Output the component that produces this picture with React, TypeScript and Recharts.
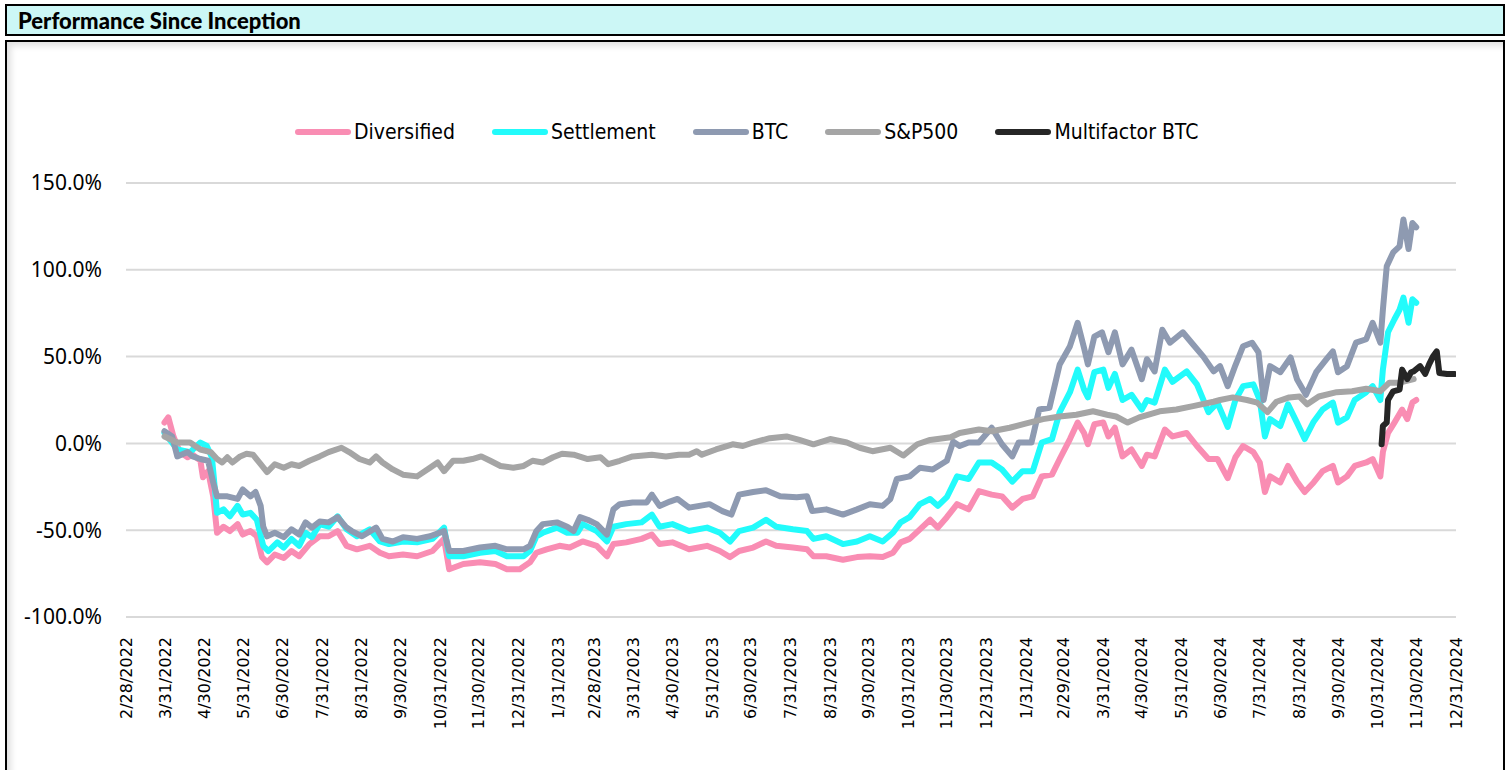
import React from 'react';
import { LineChart, Line, XAxis, YAxis, CartesianGrid, Legend } from 'recharts';

// X categories: month-end tick labels
const monthEndLabels = [
  '2/28/2022', '3/31/2022', '4/30/2022', '5/31/2022', '6/30/2022', '7/31/2022', '8/31/2022', '9/30/2022',
  '10/31/2022', '11/30/2022', '12/31/2022', '1/31/2023', '2/28/2023', '3/31/2023', '4/30/2023', '5/31/2023',
  '6/30/2023', '7/31/2023', '8/31/2023', '9/30/2023', '10/31/2023', '11/30/2023', '12/31/2023', '1/31/2024',
  '2/29/2024', '3/31/2024', '4/30/2024', '5/31/2024', '6/30/2024', '7/31/2024', '8/31/2024', '9/30/2024',
  '10/31/2024', '11/30/2024', '12/31/2024',
];
const yTicks = [-100, -50, 0, 50, 100, 150];

// Series values: [days since 2/28/2022, cumulative return %]
const diversified: [number, number][] = [
  [30, 12], [33, 15], [37, 4], [42, -5], [48, -8], [52, -6.5], [58, -10], [60, -19.5], [64, -16], [68, -30.5],
  [71, -51.5], [76, -48], [81, -50.5], [87, -46.5], [91, -52.5], [97, -50.5], [102, -53.5], [106, -65.5], [110, -68.5],
  [116, -64], [123, -66], [129, -62], [135, -65], [143, -58], [151, -53.5], [158, -53.5], [165, -50.5], [172, -59],
  [180, -61], [190, -59], [198, -63], [205, -65], [216, -64], [227, -65], [239, -62], [248, -55], [252, -72.5],
  [263, -69.5], [276, -68.5], [288, -69.5], [297, -72.5], [307, -72.5], [315, -68.5], [320, -63], [328, -61],
  [338, -59], [346, -60], [356, -56.5], [367, -59], [375, -65], [380, -58], [390, -57], [402, -55], [410, -52.5],
  [416, -58], [426, -57], [439, -61], [453, -59], [463, -62], [471, -65.5], [478, -62], [489, -60], [499, -56.5],
  [507, -59], [520, -60], [531, -61], [536, -65], [546, -65], [559, -67], [570, -65.5], [580, -65], [590, -65.5],
  [598, -63], [604, -57], [611, -55], [619, -49.5], [627, -44], [633, -48.5], [640, -42.5], [648, -35], [657, -38],
  [665, -27.5], [675, -29.5], [683, -30.5], [691, -37], [699, -32], [707, -30.5], [714, -19], [722, -18], [728, -9],
  [736, 2.5], [742, 12], [747, 6], [750, -0.5], [755, 11], [762, 12], [766, 4], [771, 9], [777, -7.5], [784, -3.5],
  [792, -13], [796, -6.5], [802, -7.5], [810, 8], [816, 4], [827, 6], [835, -1.5], [844, -9], [851, -9], [859, -20],
  [865, -8], [871, -1.5], [879, -5], [884, -11], [888, -28], [892, -19], [900, -22.5], [906, -13], [913, -22],
  [919, -28], [926, -22.5], [933, -16], [941, -13], [945, -22.5], [952, -19], [958, -13], [967, -11], [972, -9],
  [978, -19], [980, -5], [984, 6], [989, 12], [995, 19.5], [999, 14], [1003, 23.5], [1006, 25],
];

const settlement: [number, number][] = [
  [30, 6], [40, -3.5], [50, -5], [58, 0.5], [63, -1.5], [67, -8], [71, -40], [76, -38], [81, -42], [87, -36],
  [91, -41], [97, -40], [102, -44], [107, -59], [111, -62], [118, -57], [123, -60], [129, -55], [135, -59],
  [140, -51.5], [145, -54], [151, -46.5], [158, -48], [165, -42], [172, -49.5], [180, -53.5], [190, -49.5],
  [198, -56.5], [205, -58], [216, -56.5], [227, -57], [239, -55], [248, -48.5], [252, -65], [263, -65], [276, -63],
  [288, -62], [297, -65], [310, -65], [315, -62], [320, -53.5], [325, -51.5], [336, -48.5], [344, -51.5],
  [352, -51.5], [356, -46.5], [367, -50.5], [375, -56.5], [380, -48], [390, -46.5], [402, -45.5], [410, -41],
  [416, -48], [426, -46.5], [439, -50.5], [453, -48.5], [463, -51.5], [471, -56.5], [478, -50.5], [489, -48.5],
  [499, -44], [507, -48], [520, -49.5], [531, -50.5], [536, -55], [546, -53.5], [559, -58], [570, -56.5],
  [580, -53.5], [590, -56.5], [598, -51.5], [604, -45.5], [611, -42.5], [619, -35], [627, -32], [633, -36],
  [640, -31], [648, -19], [657, -20.5], [665, -11], [675, -11], [683, -15], [691, -22], [699, -16], [707, -16],
  [714, 0.5], [722, 2.5], [728, 18], [736, 29.5], [742, 42.5], [747, 31], [750, 26.5], [755, 41], [762, 42.5],
  [766, 32], [771, 40], [777, 25], [784, 28], [792, 19.5], [796, 25], [802, 23.5], [810, 42.5], [816, 35.5],
  [827, 41.5], [835, 34], [844, 18], [851, 23.5], [859, 9.5], [865, 25], [871, 33], [879, 34], [884, 25], [888, 4],
  [892, 14], [900, 10], [906, 22.5], [913, 12], [919, 2.5], [926, 12.5], [933, 19.5], [941, 23.5], [945, 12],
  [952, 15], [958, 25], [967, 29.5], [972, 33], [978, 25], [980, 42.5], [984, 64], [989, 71.5], [993, 77],
  [996, 84], [1000, 69.5], [1003, 83], [1006, 81],
];

const btc: [number, number][] = [
  [30, 7], [36, 4], [40, -7.5], [48, -5], [52, -7.5], [58, -9], [64, -10], [68, -22.5], [71, -30.5], [79, -30.5],
  [87, -32], [91, -26.5], [97, -30.5], [101, -28], [105, -36], [107, -48], [110, -53.5], [116, -51.5], [123, -54],
  [129, -49.5], [135, -52.5], [140, -45.5], [145, -48.5], [151, -45], [158, -45.5], [165, -42.5], [172, -48.5],
  [176, -50.5], [184, -53.5], [195, -48.5], [200, -55], [208, -56.5], [216, -54], [227, -55], [237, -53.5],
  [248, -50.5], [252, -62], [263, -62], [276, -60], [288, -59], [297, -61], [310, -61], [315, -59], [320, -50.5],
  [325, -46.5], [336, -45.5], [344, -48], [349, -50.5], [354, -42.5], [360, -44], [367, -46.5], [375, -52.5],
  [380, -38], [385, -35], [395, -34], [406, -34], [410, -29.5], [416, -36], [424, -33.5], [430, -32], [439, -37],
  [455, -35], [465, -39], [472, -41], [478, -29.5], [489, -28], [499, -27], [510, -30.5], [523, -31], [531, -30.5],
  [535, -39], [546, -38], [559, -41], [570, -38], [580, -35], [590, -36], [596, -32], [601, -20.5], [611, -19],
  [619, -14], [629, -15], [640, -10], [645, 1], [650, -1.5], [657, 0.5], [665, 0.5], [675, 9], [683, -0.5],
  [691, -7.5], [696, 0.5], [706, 0.5], [712, 19.5], [720, 20.5], [728, 45.5], [736, 56], [742, 69.5], [747, 55],
  [750, 45.5], [755, 61.5], [761, 64], [766, 52.5], [771, 64], [777, 45.5], [784, 54], [792, 37], [796, 48.5],
  [802, 41.5], [808, 65.5], [814, 58], [824, 64], [832, 57], [840, 50], [848, 41.5], [853, 44.5], [859, 33],
  [865, 45], [871, 56], [878, 58], [883, 52.5], [887, 25], [892, 44.5], [900, 41], [908, 49.5], [913, 37],
  [920, 28], [928, 41], [936, 48.5], [941, 53], [945, 41], [952, 44.5], [959, 58], [967, 60], [972, 69.5],
  [978, 58], [980, 77], [983, 102], [988, 110], [993, 113.5], [996, 129], [1000, 112], [1003, 127], [1006, 124.5],
];

const sp500: [number, number][] = [
  [30, 4], [40, 0.5], [50, 0.5], [58, -3.5], [66, -5], [71, -9], [75, -11], [79, -8], [83, -11], [89, -7.5],
  [94, -6], [99, -6.5], [105, -12], [110, -16.5], [116, -12], [123, -14], [129, -12], [135, -13], [143, -10],
  [151, -7.5], [158, -5], [168, -2.5], [174, -5], [182, -9], [190, -11], [195, -7.5], [200, -11], [208, -15],
  [216, -18], [227, -19], [237, -14], [243, -11], [248, -16], [255, -10], [263, -10], [270, -9], [277, -7.5],
  [284, -10], [292, -13], [302, -14], [310, -13], [317, -10], [325, -11], [333, -8], [340, -6], [349, -6.5],
  [360, -9], [370, -8], [376, -12], [385, -10], [395, -7.5], [410, -6.5], [421, -7.5], [431, -6.5], [439, -6.5],
  [445, -4.5], [449, -6.5], [460, -3.5], [473, -0.5], [481, -1.5], [489, 0.5], [502, 3], [515, 4], [525, 2],
  [536, -0.5], [549, 2.5], [562, 0.5], [572, -2.5], [582, -4.5], [596, -2.5], [606, -7], [617, -0.5], [627, 2],
  [643, 3.5], [650, 6], [665, 8], [675, 7], [689, 9], [702, 11.5], [715, 14], [728, 15.5], [741, 16.5], [754, 18.5],
  [765, 16.5], [772, 15.5], [781, 12], [790, 15], [806, 18.5], [819, 19.5], [832, 21.5], [848, 24], [853, 25],
  [863, 26.5], [874, 25], [882, 23.5], [890, 18], [897, 24], [907, 26.5], [915, 27], [921, 22.5], [930, 27],
  [944, 29.5], [956, 30], [967, 31.5], [978, 30], [985, 35], [993, 35], [1004, 37],
];

const multifactorBtc: [number, number][] = [
  [979, -0.5], [980, 10], [983, 12], [984, 25], [988, 30], [993, 31], [995, 42.5], [999, 37], [1002, 41],
  [1004, 41.5], [1009, 44.5], [1013, 40], [1016, 45.5], [1019, 50], [1022, 53], [1024, 40.5], [1030, 40], [1036, 40],
];

const seriesNames = ['Diversified', 'Settlement', 'BTC', 'S&P500', 'Multifactor BTC'];
const seriesColors = ['#F98DB3', '#22FBFB', '#8E9AB1', '#A5A5A5', '#262626'];
const seriesValues = [diversified, settlement, btc, sp500, multifactorBtc];

const BASE = Date.UTC(2022, 1, 28);
const dayOf = (s: string) => {
  const [m, d, y] = s.split('/').map(Number);
  return Math.round((Date.UTC(y, m - 1, d) - BASE) / 86400000);
};
const xTicks = monthEndLabels.map(dayOf);
const labelByDay = new Map<number, string>(xTicks.map((d, i) => [d, monthEndLabels[i]] as [number, string]));
const X_MAX = xTicks[xTicks.length - 1];

const series = seriesNames.map((name, i) => ({
  name,
  color: seriesColors[i],
  data: seriesValues[i].map(([day, v]) => ({ day, v })),
}));

const XTick = (props: any) => {
  const { x, y, payload } = props;
  return (
    <text
      x={x}
      y={y}
      transform={`rotate(-90, ${x}, ${y})`}
      textAnchor="end"
      dominantBaseline="central"
      fontFamily="'DejaVu Sans', sans-serif"
      fontSize={16}
      fill="#000"
    >
      {labelByDay.get(payload.value)}
    </text>
  );
};

const renderLegend = () => (
  <div style={{ display: 'flex', alignItems: 'center', paddingLeft: 290, height: 30 }}>
    {series.map((s) => (
      <div key={s.name} style={{ display: 'flex', alignItems: 'center', marginRight: 37 }}>
        <svg width={56} height={10}>
          <line x1={3} y1={5} x2={53} y2={5} stroke={s.color} strokeWidth={6} strokeLinecap="round" />
        </svg>
        <span
          style={{
            marginLeft: 3,
            fontFamily: "'DejaVu Sans Condensed', 'DejaVu Sans', sans-serif",
            fontStretch: 'condensed',
            fontSize: 21,
            color: '#000',
            lineHeight: '30px',
          }}
        >
          {s.name}
        </span>
      </div>
    ))}
  </div>
);

export default function App() {
  return (
    <div style={{ position: 'absolute', left: 0, top: 0, width: 1509, height: 770, overflow: 'hidden', background: '#fff' }}>
      <div
        style={{
          position: 'absolute',
          left: 5,
          top: 4,
          width: 1500,
          height: 32,
          boxSizing: 'border-box',
          border: '2px solid #000',
          background: '#CCF7F6',
          display: 'flex',
          alignItems: 'center',
          paddingLeft: 11,
          fontFamily: "Lato, 'Open Sans', sans-serif",
          fontWeight: 900,
          fontSize: 22,
          color: '#000',
        }}
      >
        Performance Since Inception
      </div>
      <div
        style={{
          position: 'absolute',
          left: 5,
          top: 40,
          width: 1500,
          height: 740,
          boxSizing: 'border-box',
          border: '2px solid #000',
          background: '#fff',
          boxShadow: 'inset 4px 4px 6px rgba(0,0,0,0.12)',
        }}
      />
      <div style={{ position: 'absolute', left: 5, top: 40 }}>
        <LineChart width={1500} height={730} margin={{ top: 143, right: 49, bottom: 33, left: 0 }}>
          <CartesianGrid horizontal vertical={false} stroke="#D9D9D9" strokeWidth={2} />
          <XAxis
            type="number"
            dataKey="day"
            domain={[0, X_MAX]}
            ticks={xTicks}
            interval={0}
            tick={<XTick />}
            tickLine={false}
            axisLine={false}
            tickSize={0}
            tickMargin={20}
            height={120}
            allowDataOverflow
          />
          <YAxis
            type="number"
            domain={[-100, 150]}
            ticks={yTicks}
            interval={0}
            tickFormatter={(v: number) => `${v.toFixed(1)}%`}
            tick={{ fontFamily: "'Noto Sans', sans-serif", fontSize: 21, fill: '#000' }}
            tickLine={false}
            axisLine={false}
            tickSize={0}
            tickMargin={24}
            width={121}
            allowDataOverflow
          />
          <Legend
            verticalAlign="middle"
            align="center"
            layout="horizontal"
            content={renderLegend}
            wrapperStyle={{ top: 77, left: 0, width: 1500, height: 30 }}
          />
          {series.map((s) => (
            <Line
              key={s.name}
              data={s.data}
              dataKey="v"
              name={s.name}
              type="linear"
              stroke={s.color}
              strokeWidth={6}
              strokeLinejoin="round"
              strokeLinecap="round"
              dot={false}
              activeDot={false}
              isAnimationActive={false}
            />
          ))}
        </LineChart>
      </div>
    </div>
  );
}
